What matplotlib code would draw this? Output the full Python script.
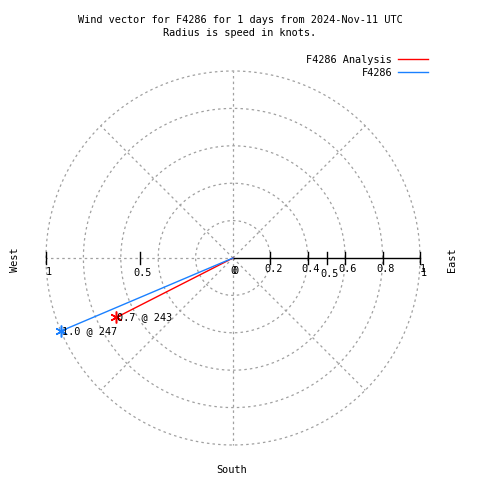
import numpy as np
import matplotlib.pyplot as plt

# wind vectors (speed in knots, direction in degrees)
names = ['F4286 Analysis', 'F4286']
speeds = [0.7, 1.0]
directions = [243, 247]
colors = ['#ff0000', '#1a80ff']

rings = [0.2, 0.4, 0.6, 0.8, 1.0]
spokes = [0, 45, 90, 135, 180, 225, 270, 315]
right_ticks = [0.2, 0.4, 0.5, 0.6, 0.8, 1.0]
right_labels = ['0.2', '0.4', '0.5', '0.6', '0.8', '1']
left_ticks = [0.5, 1.0]
left_labels = ['0.5', '1']

plt.rcParams['font.family'] = ['DejaVu Sans Mono']
fs = 7.4
grey = '#a0a0a0'

fig = plt.figure(figsize=(4.8, 4.8), dpi=100)
ax = fig.add_axes([0, 0, 1, 1])
scale = 187.0  # pixels per knot
cx, cy = 233, 258
ax.set_xlim(-cx / scale, (480 - cx) / scale)
ax.set_ylim(-(480 - cy) / scale, cy / scale)
ax.axis('off')

t = np.linspace(0, 2 * np.pi, 400)
for r in rings:
    ax.plot(r * np.cos(t), r * np.sin(t), color=grey, lw=0.9, ls=(0, (2, 2.5)))
for a in spokes:
    if a == 0:
        continue
    ar = np.radians(a)
    ax.plot([0, np.cos(ar)], [0, np.sin(ar)], color=grey, lw=0.9, ls=(0, (2, 2.5)))

# axis line to the east
ax.plot([0, 1], [0, 0], color='black', lw=1)
tk = 6 / scale
for v, lab in zip(right_ticks, right_labels):
    ax.plot([v, v], [-tk, tk], color='black', lw=1)
    dy = -0.085 if lab == '0.5' else -0.06
    ax.text(v + 0.015, dy, lab, fontsize=fs, ha='center', va='center')
ax.text(1.02, -0.08, '1', fontsize=fs, ha='center', va='center')
for v, lab in zip(left_ticks, left_labels):
    ax.plot([-v, -v], [-tk, tk], color='black', lw=1)
    ax.text(-v + 0.015, -0.08 if lab == '0.5' else -0.075, lab, fontsize=fs, ha='center', va='center')
ax.text(0.005, -0.07, '0', fontsize=fs, ha='center', va='center')
ax.text(0.015, -0.07, '0', fontsize=fs, ha='center', va='center')

for name, s, d, c in zip(names, speeds, directions, colors):
    dr = np.radians(d)
    x, y = s * np.sin(dr), s * np.cos(dr)
    ax.plot([0, x], [0, y], color=c, lw=1, label=name)
    ax.plot([x], [y], marker=(6, 2, 0), color=c, ms=8.5, mew=1.1)
    ax.text(x + 0.005, y, '%.1f @ %d' % (s, d), fontsize=fs, ha='left', va='center')

fig.text(0.5, 1 - 20 / 480, 'Wind vector for F4286 for 1 days from 2024-Nov-11 UTC',
         fontsize=fs, ha='center', va='center')
fig.text(0.5, 1 - 33 / 480, 'Radius is speed in knots.', fontsize=fs, ha='center', va='center')
fig.text(15 / 480, 1 - 260 / 480, 'West', fontsize=fs, rotation=90, ha='center', va='center')
fig.text(452 / 480, 1 - 260 / 480, 'East', fontsize=fs, rotation=90, ha='center', va='center')
fig.text(232 / 480, 1 - 470 / 480, 'South', fontsize=fs, ha='center', va='center')

ax.legend(loc='upper right', bbox_to_anchor=(428 / 480, 1 - 55 / 480), frameon=False,
          markerfirst=False, fontsize=fs, handlelength=2.9, handletextpad=0.6,
          borderpad=0, labelspacing=0.25, borderaxespad=0)

fig.savefig('out.png', dpi=100)
